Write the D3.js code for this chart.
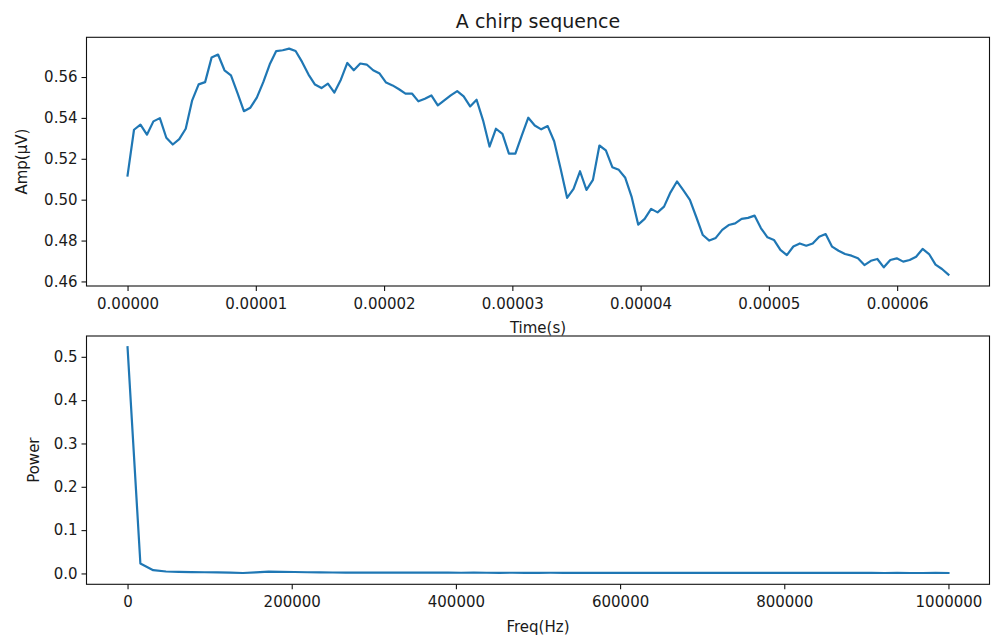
<!DOCTYPE html>
<html>
<head>
<meta charset="utf-8">
<script src="https://cdn.jsdelivr.net/npm/d3@7"></script>
<style>
  body { margin: 0; background: #fff; }
  svg { display: block; font-family: "DejaVu Sans", sans-serif; }
  .tick text { fill: #1a1a1a; }
</style>
</head>
<body>
<svg id="chart" width="991" height="635"></svg>
<script>
// chirp samples, 128 points over 0 .. 6.4e-5 s
const tStart = 0;
const tEnd = 6.4e-5;
const amp = [
  0.5118, 0.5342, 0.5367, 0.5318, 0.5383, 0.5399, 0.5303, 0.5270, 0.5296, 0.5347,
  0.5486, 0.5564, 0.5575, 0.5695, 0.5710, 0.5633, 0.5608, 0.5522, 0.5433, 0.5450,
  0.5499, 0.5575, 0.5662, 0.5727, 0.5731, 0.5739, 0.5727, 0.5674, 0.5612, 0.5563,
  0.5546, 0.5568, 0.5524, 0.5587, 0.5669, 0.5633, 0.5666, 0.5661, 0.5633, 0.5617,
  0.5573, 0.5559, 0.5540, 0.5519, 0.5519, 0.5481, 0.5494, 0.5510, 0.5461, 0.5486,
  0.5510, 0.5531, 0.5505, 0.5456, 0.5489, 0.5388, 0.5260, 0.5347, 0.5322, 0.5225,
  0.5225, 0.5314, 0.5401, 0.5363, 0.5344, 0.5360, 0.5286, 0.5151, 0.5009, 0.5053,
  0.5139, 0.5048, 0.5097, 0.5265, 0.5241, 0.5159, 0.5146, 0.5107, 0.5012, 0.4878,
  0.4906, 0.4955, 0.4938, 0.4966, 0.5036, 0.5089, 0.5045, 0.4999, 0.4914, 0.4827,
  0.4800, 0.4813, 0.4852, 0.4876, 0.4884, 0.4906, 0.4911, 0.4922, 0.4860, 0.4816,
  0.4803, 0.4754, 0.4729, 0.4771, 0.4786, 0.4775, 0.4786, 0.4819, 0.4832, 0.4770,
  0.4750, 0.4734, 0.4726, 0.4713, 0.4680, 0.4701, 0.4710, 0.4669, 0.4705, 0.4713,
  0.4697, 0.4705, 0.4721, 0.4759, 0.4734, 0.4682, 0.4661, 0.4633
];

// power spectrum, 65 bins over 0 .. 1e6 Hz
const fMax = 1e6;
const power = [
  0.5220, 0.0230, 0.0075, 0.0045, 0.0035, 0.0030, 0.0028, 0.0025, 0.0020, 0.0010,
  0.0025, 0.0040, 0.0038, 0.0033, 0.0028, 0.0024, 0.0022, 0.0020, 0.0020, 0.0019,
  0.0018, 0.0019, 0.0018, 0.0017, 0.0018, 0.0017, 0.0016, 0.0017, 0.0016, 0.0015,
  0.0016, 0.0015, 0.0015, 0.0016, 0.0015, 0.0014, 0.0015, 0.0014, 0.0014, 0.0015,
  0.0014, 0.0013, 0.0014, 0.0013, 0.0013, 0.0014, 0.0013, 0.0012, 0.0013, 0.0012,
  0.0012, 0.0013, 0.0012, 0.0011, 0.0012, 0.0011, 0.0011, 0.0012, 0.0011, 0.0010,
  0.0011, 0.0010, 0.0010, 0.0011, 0.0010
];

const ampTicks = [0.46, 0.48, 0.50, 0.52, 0.54, 0.56];
const timeTicks = [0, 1e-5, 2e-5, 3e-5, 4e-5, 5e-5, 6e-5];
const powerTicks = [0, 0.1, 0.2, 0.3, 0.4, 0.5];
const freqTicks = [0, 200000, 400000, 600000, 800000, 1000000];

const svg = d3.select("#chart");
const lineColor = "#1f77b4";
const left = 86.5, right = 989.5;

function pad(ext) {
  const m = (ext[1] - ext[0]) * 0.05;
  return [ext[0] - m, ext[1] + m];
}

function drawPanel({ top, bottom, xs, ys, xTicks, xFmt, yTicks, yFmt, xLabel, yLabel, yLabelX, xLabelY }) {
  const x = d3.scaleLinear().domain(pad(d3.extent(xs))).range([left, right]);
  const y = d3.scaleLinear().domain(pad(d3.extent(ys))).range([bottom, top]);
  const g = svg.append("g");

  g.append("path")
    .datum(xs.map((d, i) => [d, ys[i]]))
    .attr("fill", "none")
    .attr("stroke", lineColor)
    .attr("stroke-width", 2.2)
    .attr("stroke-linejoin", "round")
    .attr("stroke-linecap", "square")
    .attr("d", d3.line().x((d) => x(d[0])).y((d) => y(d[1])));

  g.append("rect")
    .attr("x", left).attr("y", top)
    .attr("width", right - left).attr("height", bottom - top)
    .attr("fill", "none").attr("stroke", "#111").attr("stroke-width", 1.1);

  g.append("g")
    .attr("transform", `translate(0,${bottom})`)
    .call(d3.axisBottom(x).tickValues(xTicks).tickFormat(xFmt).tickSize(5).tickSizeOuter(0).tickPadding(7.5))
    .call((a) => a.select(".domain").remove())
    .call((a) => a.selectAll("line").attr("stroke", "#111").attr("stroke-width", 1.1))
    .call((a) => a.selectAll("text").attr("font-size", 15).attr("font-family", "DejaVu Sans"));

  g.append("g")
    .attr("transform", `translate(${left},0)`)
    .call(d3.axisLeft(y).tickValues(yTicks).tickFormat(yFmt).tickSize(5).tickSizeOuter(0).tickPadding(4))
    .call((a) => a.select(".domain").remove())
    .call((a) => a.selectAll("line").attr("stroke", "#111").attr("stroke-width", 1.1))
    .call((a) => a.selectAll("text").attr("font-size", 15).attr("font-family", "DejaVu Sans"));

  g.append("text")
    .attr("x", (left + right) / 2).attr("y", xLabelY)
    .attr("text-anchor", "middle").attr("dy", "0.35em")
    .attr("font-size", 15).attr("fill", "#1a1a1a")
    .text(xLabel);

  g.append("text")
    .attr("transform", `translate(${yLabelX},${(top + bottom) / 2}) rotate(-90)`)
    .attr("text-anchor", "middle").attr("dy", "0.35em")
    .attr("font-size", 15).attr("fill", "#1a1a1a")
    .text(yLabel);
}

const times = amp.map((d, i) => tStart + (i * (tEnd - tStart)) / (amp.length - 1));
const freqs = power.map((d, i) => (i * fMax) / (power.length - 1));

drawPanel({
  top: 37.3, bottom: 286,
  xs: times, ys: amp,
  xTicks: timeTicks, xFmt: d3.format(".5f"),
  yTicks: ampTicks, yFmt: d3.format(".2f"),
  xLabel: "Time(s)", yLabel: "Amp(\u03bcV)",
  yLabelX: 22, xLabelY: 328
});

drawPanel({
  top: 336, bottom: 584.3,
  xs: freqs, ys: power,
  xTicks: freqTicks, xFmt: d3.format("d"),
  yTicks: powerTicks, yFmt: d3.format(".1f"),
  xLabel: "Freq(Hz)", yLabel: "Power",
  yLabelX: 34, xLabelY: 627
});

svg.append("text")
  .attr("x", (left + right) / 2).attr("y", 27.5)
  .attr("text-anchor", "middle")
  .attr("font-size", 19).attr("fill", "#1a1a1a")
  .text("A chirp sequence");
</script>
</body>
</html>
